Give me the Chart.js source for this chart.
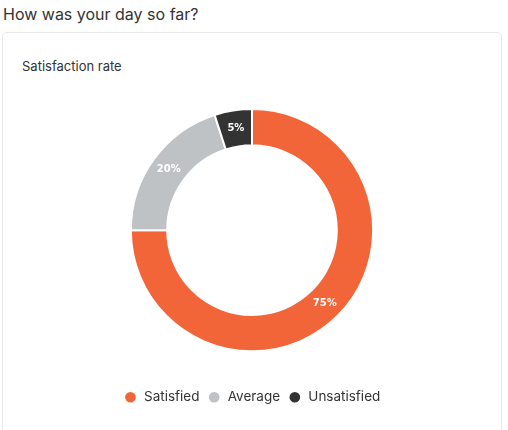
<!DOCTYPE html>
<html>
<head>
<meta charset="utf-8">
<script src="https://cdn.jsdelivr.net/npm/chart.js@4"></script>
<style>
  body { margin: 0; background: #fff; font-family: Inter, sans-serif; color: #333; }
  h3 { position: absolute; left: 3px; top: 4px; margin: 0; font-size: 16px; font-weight: 400; color: #333; }
  .card { position: absolute; left: 2px; top: 32px; width: 498px; height: 420px; border: 1px solid #e9e9e9; border-radius: 5px; }
  .card h4 { position: absolute; left: 19px; top: 25px; margin: 0; font-size: 13px; font-weight: 400; color: #333; }
  .chart-box { position: absolute; left: 0; top: 75px; width: 498px; height: 306px; }
</style>
</head>
<body>
<h3>How was your day so far?</h3>
<div class="card">
  <h4>Satisfaction rate</h4>
  <div class="chart-box"><canvas id="satisfaction"></canvas></div>
</div>
<script>
const labels = ["Satisfied", "Average", "Unsatisfied"];
const values = [75, 20, 5];
const colors = ["#f26538", "#bec2c5", "#333333"];

// draws the percent text inside each slice
const sliceLabels = {
  id: "sliceLabels",
  afterDatasetsDraw(chart) {
    const ctx = chart.ctx;
    const meta = chart.getDatasetMeta(0);
    ctx.save();
    ctx.font = "bold 10px 'DejaVu Sans', sans-serif";
    ctx.fillStyle = "#fff";
    ctx.textAlign = "center";
    ctx.textBaseline = "middle";
    meta.data.forEach((arc, i) => {
      const p = arc.tooltipPosition();
      ctx.fillText(values[i] + "%", p.x, p.y);
    });
    ctx.restore();
  }
};

new Chart(document.getElementById("satisfaction"), {
  type: "doughnut",
  data: {
    labels: labels,
    datasets: [{
      data: values,
      backgroundColor: colors,
      borderColor: "#fff",
      borderWidth: 2,
      hoverOffset: 0
    }]
  },
  options: {
    responsive: true,
    maintainAspectRatio: false,
    animation: false,
    cutout: "70%",
    layout: { padding: 0 },
    plugins: {
      legend: {
        position: "bottom",
        title: { display: true, text: "", font: { size: 1 }, padding: { top: 29, bottom: 0 } },
        labels: {
          usePointStyle: true,
          pointStyle: "circle",
          boxWidth: 14,
          boxHeight: 9,
          padding: 8,
          color: "#333",
          font: { family: "Inter, sans-serif", size: 13.5 }
        }
      },
      tooltip: { enabled: false }
    }
  },
  plugins: [sliceLabels]
});
</script>
</body>
</html>
